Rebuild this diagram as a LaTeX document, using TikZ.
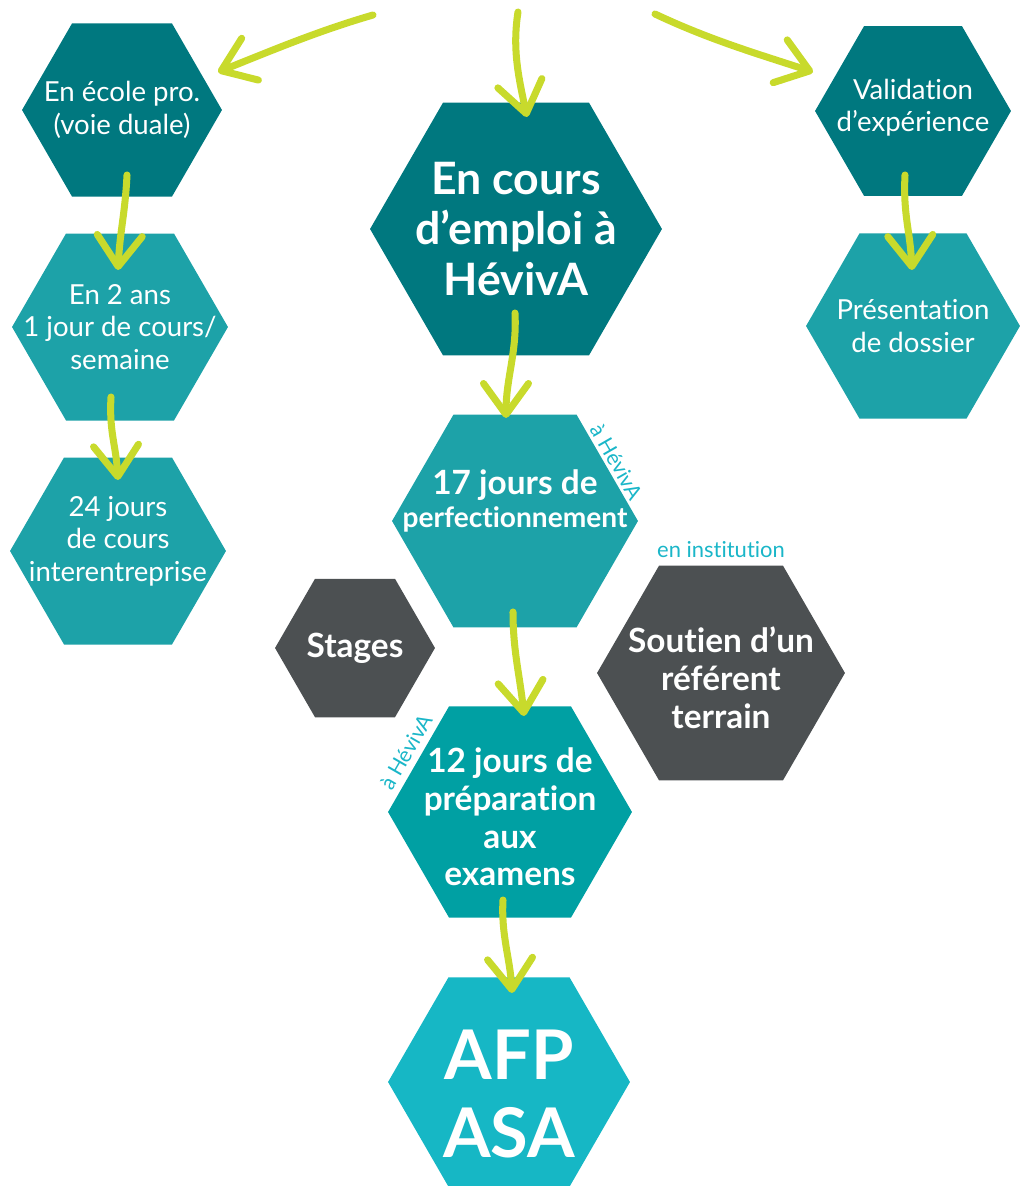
\documentclass[tikz,border=0pt]{standalone}
\usepackage{fontspec}
\setmainfont{Lato}[Ligatures=NoCommon]
\usetikzlibrary{shapes.geometric,arrows.meta}
\definecolor{tealdark}{HTML}{00787F}
\definecolor{tealmid}{HTML}{1DA2A8}
\definecolor{tealdouze}{HTML}{00A0A3}
\definecolor{cyanafp}{HTML}{16B7C5}
\definecolor{grisfonce}{HTML}{4C5052}
\definecolor{citron}{HTML}{C8DA2C}
\definecolor{cyantexte}{HTML}{1AB6C8}
\tikzstyle{hexa}=[regular polygon,regular polygon sides=6,inner sep=0pt]
\tikzstyle{fleche}=[draw=citron,line width=4pt,line cap=round,-{Straight Barb[length=0.62cm,width=0.9cm,round]}]
\tikzstyle{texte}=[text=white,align=center,font=\fontsize{15.7}{18.4}\selectfont]
\tikzstyle{gras}=[text=white,align=center,font=\bfseries\fontsize{19}{21.5}\selectfont]
\tikzstyle{note}=[text=cyantexte,inner sep=0pt,font=\fontsize{12}{13}\selectfont]

\begin{document}
\begin{tikzpicture}[x=0.02cm,y=-0.02cm]
  \useasboundingbox (0,0) rectangle (1020,1186);

  % voie duale a gauche
  \node[hexa,fill=tealdark,minimum size=100*0.04cm,
    label={[texte]center:{En école pro.\\(voie duale)}}] (ecole) at (122,110) {};
  \node[hexa,fill=tealmid,minimum size=108*0.04cm,
    label={[texte]center:{En 2 ans\\1 jour de cours/\\semaine}}] (deuxans) at (120,327) {};
  \node[hexa,fill=tealmid,minimum size=108*0.04cm,
    label={[texte,yshift=0.2cm]center:{24 jours\\de cours\\interentreprise}}] (vingtquatre) at (118,551) {};

  % voie du milieu
  \node[hexa,fill=tealdark,minimum size=146*0.04cm,
    label={[text=white,align=center,font=\bfseries\fontsize{25.4}{29}\selectfont]center:{En cours\\d’emploi à\\HévivA}}] (emploi) at (516,229) {};
  \node[hexa,fill=tealmid,minimum size=123*0.04cm,
    label={[gras,yshift=0.4cm,font=\bfseries\fontsize{19}{19}\selectfont]center:{17 jours de\\{\fontsize{16}{19}\selectfont perfectionnement}}}] (dixsept) at (515,521) {};
  \node[hexa,fill=grisfonce,minimum size=80*0.04cm,
    label={[gras]center:{Stages}}] (stages) at (355,648) {};
  \node[hexa,fill=grisfonce,minimum size=124*0.04cm,
    label={[gras,yshift=-0.1cm]center:{Soutien d’un\\référent\\terrain}}] (soutien) at (721,673) {};
  \node[hexa,fill=tealdouze,minimum size=122*0.04cm,
    label={[gras,yshift=-0.1cm]center:{12 jours de\\préparation\\aux\\examens}}] (douze) at (510,812) {};
  \node[hexa,fill=cyanafp,minimum size=121*0.04cm,
    label={[text=white,align=center,yshift=-0.24cm,font=\bfseries\fontsize{39}{44}\selectfont]center:{AFP\\ASA}}] (afp) at (509,1082) {};

  % validation a droite
  \node[hexa,fill=tealdark,minimum size=98*0.04cm,
    label={[texte,yshift=0.06cm]center:{Validation\\d’expérience}}] (validation) at (913,111) {};
  \node[hexa,fill=tealmid,minimum size=107*0.04cm,
    label={[texte]center:{Présentation\\de dossier}}] (dossier) at (913,326) {};

  % petites notes
  \node[note,rotate=-60] (noteA) at ([shift={(102,-59)}]dixsept.center) {à HévivA};
  \node[note,rotate=60] (noteB) at ([shift={(-104,-60)}]douze.center) {à HévivA};
  \node[note,font=\fontsize{12.5}{14}\selectfont] (noteC) at ([shift={(0,-123)}]soutien.center) {en institution};

  % fleches
  \coordinate (departG) at (373,15);
  \coordinate (departM) at (518,12);
  \coordinate (departD) at (655,14);
  \draw[fleche] (departG) .. controls +(-55,16) and +(55,-22) .. ([shift={(96,-38)}]ecole.center);
  \draw[fleche] (departM) .. controls +(-6,38) and +(-8,-38) .. ([shift={(11,-112)}]emploi.center);
  \draw[fleche] (departD) .. controls +(55,26) and +(-55,-18) .. ([shift={(-100,-39)}]validation.center);
  \draw[fleche] ([shift={(5,65)}]ecole.center) .. controls +(-2,40) and +(2,-40) .. ([shift={(-2,-57)}]deuxans.center);
  \draw[fleche] ([shift={(-9,70)}]deuxans.center) .. controls +(-2,35) and +(-2,-35) .. ([shift={(0,-71)}]vingtquatre.center);
  \draw[fleche] ([shift={(-8,64)}]validation.center) .. controls +(-2,40) and +(-2,-40) .. ([shift={(-1,-56)}]dossier.center);
  \draw[fleche] ([shift={(-1,84)}]emploi.center) .. controls +(2,40) and +(0,-40) .. ([shift={(-9,-103)}]dixsept.center);
  \draw[fleche] ([shift={(-2,91)}]dixsept.center) .. controls +(0,40) and +(-4,-40) .. ([shift={(14,-96)}]douze.center);
  \draw[fleche] ([shift={(-7,88)}]douze.center) .. controls +(-2,35) and +(-2,-35) .. ([shift={(3,-89)}]afp.center);
\end{tikzpicture}
\end{document}
